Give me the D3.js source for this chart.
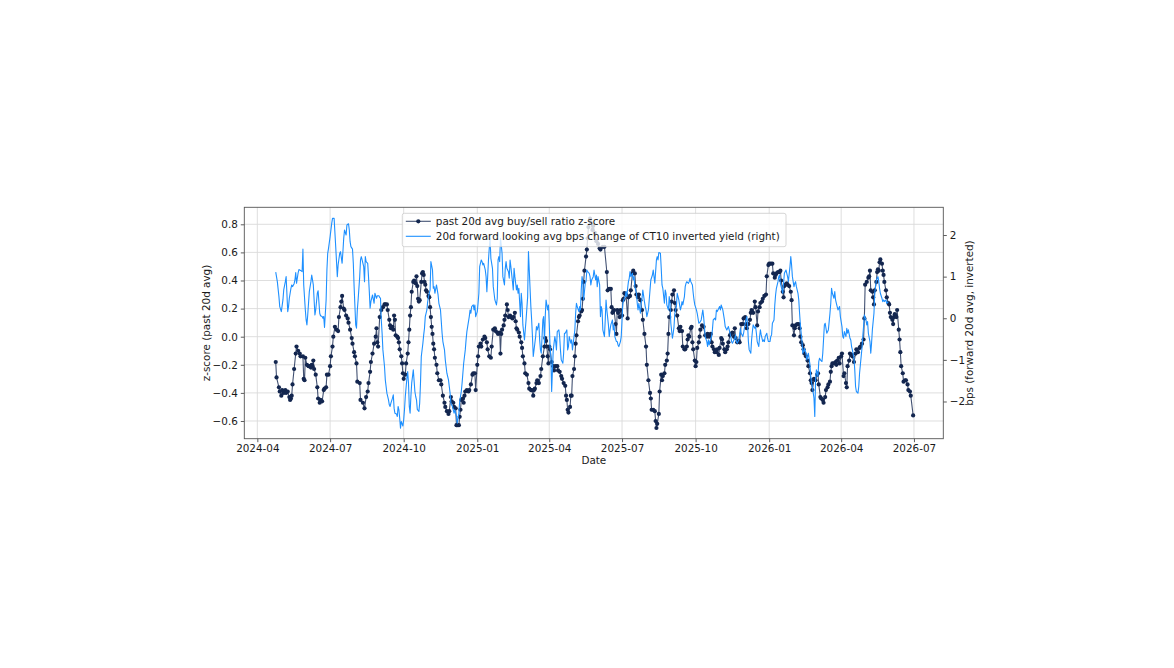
<!DOCTYPE html>
<html>
<head>
<meta charset="utf-8">
<script src="https://cdn.jsdelivr.net/npm/d3@7"></script>
<style>
  body { margin: 0; background: #ffffff; }
  text { font-family: "DejaVu Sans", sans-serif; }
</style>
</head>
<body>
<div id="my_dataviz"></div>
<script>
// day offsets are counted from this date
var baseDate = "2024-04-01"

// past 20d avg buy/sell ratio z-score (left axis)
var zDays = [23,24,27,28,30,31,33,35,36,38,
  40,41,42,43,44,46,48,49,51,53,
  54,57,58,59,60,62,64,65,67,68,
  69,70,71,73,75,76,78,79,81,83,
  84,86,87,89,91,92,94,95,97,99,
  101,102,104,105,106,108,109,111,113,114,
  116,118,119,121,122,124,125,128,129,132,
  134,136,138,139,141,142,144,146,148,149,
  150,151,153,155,157,159,160,162,163,165,
  166,167,169,170,171,172,173,175,176,177,
  178,180,181,182,183,185,186,188,189,190,
  191,192,193,195,196,198,199,200,201,202,
  203,205,206,207,208,209,210,211,212,214,
  215,216,217,218,219,220,221,222,224,225,
  227,229,230,232,234,235,237,239,240,242,
  243,245,246,248,249,250,252,253,254,255,
  257,258,259,260,262,264,265,267,269,270,
  272,273,275,276,277,279,280,282,284,285,
  287,288,290,292,293,295,297,298,300,301,
  303,304,305,306,308,309,310,312,313,314,
  316,317,319,320,322,323,324,325,327,328,
  330,331,332,334,335,337,339,340,342,343,
  345,346,347,349,350,352,354,355,357,359,
  360,361,362,363,364,365,366,368,370,371,
  373,375,376,378,380,381,383,385,386,387,
  388,389,391,392,393,394,396,397,398,399,
  401,402,403,405,406,407,408,409,411,412,
  413,414,416,417,419,420,422,424,426,428,
  429,432,434,437,438,440,442,443,444,445,
  446,448,449,450,451,453,454,456,457,458,
  459,461,463,464,466,467,469,470,472,473,
  474,476,477,479,481,482,484,486,487,489,
  491,492,493,495,497,498,499,500,502,503,
  505,506,507,509,510,512,513,514,515,517,
  518,519,521,522,523,525,527,528,529,531,
  532,534,535,537,538,539,540,542,543,544,
  545,547,548,549,550,552,553,554,556,558,
  560,562,563,565,567,568,569,571,572,574,
  575,577,578,580,581,582,584,585,587,588,
  589,591,592,594,596,597,598,600,602,603,
  605,607,608,610,611,612,614,616,617,618,
  620,622,623,625,626,628,629,631,632,634,
  636,637,639,640,642,644,645,647,648,649,
  651,653,654,655,657,658,659,660,662,663,
  665,667,668,669,671,672,673,675,677,678,
  679,680,682,683,684,686,688,689,691,692,
  693,694,696,698,700,701,702,704,705,707,
  708,710,711,713,714,716,717,718,719,721,
  723,724,725,727,728,730,731,733,734,736,
  737,738,740,741,743,744,746,748,749,751,
  753,754,756,758,759,760,762,764,765,766,
  767,769,770,771,772,774,775,776,777,778,
  779,781,782,783,784,786,787,789,790,791,
  792,794,795,796,797,798,799,800,802,803,
  804,805,807,808,810,811,813,814,816,817,
  820]
var zVals = [-0.18,-0.29,-0.36,-0.39,-0.42,-0.38,-0.40,-0.38,-0.40,-0.39,
  -0.43,-0.45,-0.44,-0.42,-0.34,-0.23,-0.12,-0.07,-0.10,-0.12,
  -0.14,-0.14,-0.30,-0.31,-0.15,-0.20,-0.21,-0.21,-0.22,-0.20,
  -0.21,-0.17,-0.23,-0.27,-0.36,-0.44,-0.47,-0.45,-0.46,-0.38,
  -0.37,-0.36,-0.27,-0.27,-0.21,-0.14,-0.07,0.00,0.07,0.05,
  0.04,0.14,0.21,0.25,0.29,0.20,0.19,0.15,0.13,0.10,
  0.05,-0.01,-0.05,-0.11,-0.14,-0.19,-0.32,-0.33,-0.45,-0.47,
  -0.51,-0.43,-0.39,-0.33,-0.25,-0.18,-0.12,-0.05,0.00,0.06,
  -0.04,-0.07,0.14,0.19,0.21,0.23,0.23,0.23,0.19,0.12,
  0.08,0.06,0.07,0.05,0.15,0.12,0.01,0.00,-0.01,-0.04,
  -0.09,-0.14,-0.19,-0.26,-0.30,-0.27,-0.19,-0.12,-0.04,0.05,
  0.15,0.21,0.32,0.39,0.40,0.38,0.43,0.36,0.27,0.25,
  0.26,0.39,0.45,0.46,0.44,0.39,0.37,0.33,0.32,0.29,
  0.28,0.21,0.14,0.07,0.02,-0.05,-0.09,-0.15,-0.20,-0.26,
  -0.31,-0.31,-0.34,-0.42,-0.47,-0.50,-0.53,-0.55,-0.53,-0.43,
  -0.46,-0.47,-0.50,-0.51,-0.63,-0.63,-0.63,-0.57,-0.52,-0.45,
  -0.44,-0.47,-0.42,-0.39,-0.38,-0.39,-0.38,-0.34,-0.27,-0.26,
  -0.26,-0.38,-0.20,-0.14,-0.07,-0.05,-0.07,-0.02,0.00,-0.01,
  -0.04,-0.09,-0.14,-0.15,-0.07,0.05,0.06,0.04,0.03,0.02,
  0.03,-0.12,0.02,0.05,0.08,0.12,0.15,0.23,0.19,0.14,
  0.15,0.14,0.13,0.14,0.17,0.11,0.06,0.05,0.03,0.00,
  -0.04,-0.08,-0.14,-0.19,-0.26,-0.27,-0.33,-0.37,-0.38,-0.38,
  -0.42,-0.38,-0.37,-0.33,-0.31,-0.33,-0.28,-0.23,-0.14,-0.07,
  -0.01,-0.03,-0.07,-0.14,-0.19,-0.07,-0.09,-0.18,-0.21,-0.24,
  -0.21,-0.21,-0.24,-0.25,-0.28,-0.30,-0.33,-0.35,-0.42,-0.45,
  -0.52,-0.54,-0.50,-0.42,-0.42,-0.28,-0.23,-0.14,-0.05,0.01,
  0.11,0.14,0.15,0.18,0.19,0.27,0.39,0.47,0.57,0.62,
  0.70,0.78,0.84,0.81,0.76,0.79,0.74,0.68,0.66,0.63,
  0.62,0.64,0.64,0.46,0.33,0.34,0.34,0.21,0.17,0.18,
  0.19,0.09,0.02,0.19,0.17,0.14,0.19,0.15,0.26,0.27,
  0.31,0.30,0.13,0.28,0.29,0.33,0.45,0.47,0.45,0.36,
  0.30,0.28,0.30,0.26,0.19,0.12,0.02,-0.07,-0.20,-0.31,
  -0.40,-0.44,-0.52,-0.52,-0.53,-0.60,-0.65,-0.62,-0.55,-0.39,
  -0.27,-0.31,-0.28,-0.26,-0.20,-0.17,-0.12,0.02,0.14,0.19,
  0.25,0.30,0.33,0.24,0.19,0.15,0.06,0.04,0.07,0.04,
  -0.07,-0.09,-0.09,-0.07,-0.02,0.01,0.00,0.06,0.07,-0.04,
  -0.09,-0.17,-0.21,-0.18,-0.08,-0.04,0.00,0.05,0.08,0.07,
  0.01,0.00,0.02,0.00,0.02,-0.04,-0.07,-0.09,-0.11,-0.11,
  -0.09,-0.13,-0.08,-0.01,-0.02,-0.05,-0.09,-0.11,-0.09,-0.07,
  -0.04,0.01,0.02,0.03,0.00,0.06,-0.01,-0.04,-0.03,-0.04,
  0.09,0.09,0.13,0.14,0.09,0.06,0.09,0.12,0.17,0.19,
  0.17,0.25,0.21,0.08,0.18,0.21,0.24,0.25,0.27,0.29,
  0.30,0.43,0.51,0.52,0.52,0.52,0.45,0.42,0.44,0.45,
  0.46,0.46,0.47,0.40,0.32,0.28,0.36,0.37,0.38,0.37,
  0.36,0.32,0.26,0.08,0.01,0.06,0.08,0.09,0.09,0.06,
  0.00,-0.04,-0.06,-0.09,-0.12,-0.14,-0.17,-0.21,-0.26,-0.31,
  -0.33,-0.38,-0.30,-0.31,-0.27,-0.26,-0.34,-0.43,-0.44,-0.45,
  -0.47,-0.43,-0.38,-0.36,-0.34,-0.32,-0.25,-0.21,-0.19,-0.19,
  -0.18,-0.20,-0.17,-0.15,-0.19,-0.14,-0.12,-0.28,-0.26,-0.33,
  -0.36,-0.21,-0.17,-0.12,-0.13,-0.14,-0.18,-0.12,-0.09,-0.11,
  -0.08,-0.07,-0.05,-0.02,0.13,0.37,0.39,0.42,0.43,0.47,
  0.33,0.32,0.28,0.23,0.33,0.39,0.46,0.48,0.47,0.53,
  0.55,0.52,0.47,0.44,0.39,0.33,0.28,0.24,0.23,0.17,
  0.14,0.12,0.09,0.14,0.16,0.15,0.14,0.19,0.05,-0.02,
  -0.11,-0.21,-0.26,-0.32,-0.31,-0.31,-0.34,-0.38,-0.39,-0.42,
  -0.56]

// 20d forward looking avg bps change of CT10 inverted yield (right axis)
var fDays = [23,25,27,28,30,32,33,35,36,38,
  39,40,42,43,44,46,47,48,49,51,
  52,54,56,57,58,60,61,62,63,65,
  67,68,70,71,72,73,75,76,78,79,
  81,82,83,84,86,87,88,89,91,93,
  94,96,98,99,100,101,103,104,106,107,
  108,109,111,112,114,115,116,117,119,120,
  121,123,124,125,126,128,129,130,131,133,
  134,135,136,138,139,140,141,142,144,145,
  146,147,149,150,152,153,154,155,156,157,
  159,160,161,162,164,165,166,167,169,170,
  171,172,174,175,176,177,178,179,180,182,
  183,184,185,187,188,189,190,191,192,193,
  194,195,197,198,199,200,202,203,204,205,
  207,208,209,210,212,213,214,215,216,217,
  219,220,221,222,224,225,226,227,229,230,
  231,232,234,235,236,237,239,240,241,242,
  244,245,246,247,249,250,251,252,253,255,
  256,257,258,260,261,262,263,265,266,267,
  268,270,271,272,273,275,276,277,278,280,
  281,282,283,285,286,287,288,289,290,291,
  292,294,295,296,297,299,300,301,302,303,
  304,305,306,307,309,310,311,312,314,315,
  316,317,319,320,321,322,324,325,326,327,
  329,330,331,332,334,335,336,338,339,340,
  342,343,344,345,347,348,349,350,352,353,
  354,355,357,358,359,360,361,363,364,365,
  366,367,368,369,370,372,373,374,375,377,
  378,379,380,382,383,384,385,387,388,389,
  390,392,393,394,395,397,398,399,400,402,
  403,404,405,406,407,408,410,411,412,413,
  415,416,417,418,420,421,423,424,425,426,
  428,429,430,431,432,434,435,436,437,439,
  440,441,442,444,445,446,447,449,450,451,
  452,454,455,456,457,459,460,461,462,463,
  464,465,466,467,469,470,471,472,474,475,
  476,477,479,480,481,482,484,485,486,487,
  489,490,491,492,494,495,496,497,499,500,
  501,502,504,505,506,507,509,510,511,512,
  514,515,516,517,519,520,521,522,524,525,
  526,527,529,530,531,532,534,535,536,537,
  539,540,541,542,544,545,546,547,549,550,
  551,552,554,555,556,557,558,559,560,562,
  563,564,565,567,568,569,570,572,573,574,
  575,577,578,579,580,582,583,584,585,587,
  588,589,590,592,593,594,595,597,598,599,
  600,602,603,604,605,607,608,609,610,612,
  613,614,615,617,618,619,620,622,623,624,
  625,627,628,629,630,632,633,634,635,637,
  638,639,641,642,643,644,646,647,648,649,
  651,652,653,654,656,657,658,659,661,662,
  663,664,666,667,668,669,671,672,673,674,
  676,677,678,679,681,682,683,684,686,687,
  688,689,691,692,693,694,696,697,698,699,
  701,702,703,704,706,707,709,710,711,712,
  714,715,716,717,718,719,721,722,723,724,
  726,727,728,729,731,732,733,734,736,737,
  738,739,741,742,743,744,746,747,748,749,
  751,752,753,754,756,757,758,759,761,762,
  763,764,766,767,768,769,771,772,773,774,
  776,777,778,779,781,782,783,784,786,787,
  789]
var fVals = [1.11,0.88,0.52,0.28,0.16,0.44,0.68,0.88,1.00,0.16,
  0.28,0.48,0.72,0.80,0.76,0.83,0.92,1.10,0.84,1.09,
  1.17,1.15,1.12,1.66,0.80,0.20,-0.04,-0.16,0.08,0.64,
  0.88,1.04,0.80,0.44,0.08,0.20,0.60,0.66,0.12,0.06,
  0.04,0.00,0.04,-0.22,0.44,1.16,1.56,1.68,1.96,2.28,
  2.40,2.40,1.72,1.36,1.00,1.28,1.56,1.60,1.32,1.60,
  1.92,2.12,2.00,2.24,2.27,2.12,1.84,1.72,1.66,1.32,
  0.76,-0.16,-0.24,0.20,0.44,1.00,1.40,1.48,1.40,1.24,
  0.88,1.48,1.36,1.32,1.00,0.64,0.24,0.40,0.56,0.46,
  0.36,0.60,0.48,0.54,0.54,0.50,0.48,-0.04,-0.36,-0.76,
  -1.16,-1.48,-1.64,-1.80,-1.96,-2.08,-2.12,-2.04,-1.92,-1.84,
  -2.16,-2.28,-2.30,-2.36,-2.12,-2.20,-2.40,-2.64,-2.48,-2.59,
  -2.44,-2.20,-1.88,-1.44,-1.28,-1.56,-2.12,-2.28,-1.88,-1.56,
  -1.40,-1.24,-1.76,-1.88,-1.96,-2.19,-2.24,-2.04,-1.56,-0.92,
  -0.60,-0.40,-0.24,0.04,0.20,0.40,0.52,0.60,0.68,1.36,
  1.16,0.72,0.76,0.60,0.80,0.68,0.56,0.36,0.20,-0.08,
  -0.36,-0.56,-0.76,-1.00,-1.16,-1.32,-1.48,-1.64,-1.80,-2.04,
  -2.12,-2.20,-2.28,-2.20,-2.36,-2.52,-2.40,-2.28,-2.00,-1.76,
  -1.56,-1.32,-1.08,-0.76,-0.52,-0.32,-0.20,0.04,0.20,0.12,
  0.28,0.32,0.20,0.32,0.04,0.16,0.36,0.60,1.24,1.40,
  1.36,1.28,1.32,1.16,1.00,0.64,1.00,1.40,1.68,1.92,
  1.44,1.20,0.76,0.60,0.44,0.32,0.48,1.40,1.48,1.36,
  1.92,1.76,1.56,1.00,0.80,1.20,1.36,1.20,1.12,0.96,
  1.40,1.24,0.88,0.68,1.20,1.00,0.68,0.80,0.60,0.72,
  0.04,0.60,0.36,-0.16,-0.52,-0.28,-0.04,0.52,1.60,1.16,
  0.28,-0.04,-0.44,-0.92,-0.60,-0.44,-0.20,-0.28,-0.12,-0.52,
  -0.76,-0.84,-0.04,0.04,-0.60,0.04,0.44,0.20,0.32,-0.12,
  -0.68,-0.92,-1.76,-1.24,-0.76,-0.44,-0.56,-0.76,-0.32,-0.28,
  -0.44,-0.76,-1.00,-1.08,-0.84,-0.36,-0.36,-0.28,-0.76,-0.68,
  -0.44,-0.60,-0.52,-0.76,-0.60,-0.28,0.12,0.36,0.28,0.16,
  0.28,0.20,0.68,1.00,0.88,0.44,0.84,0.88,1.16,1.12,
  1.08,1.00,0.80,0.92,1.00,1.16,0.92,1.04,0.76,1.00,
  0.80,0.04,0.28,0.20,-0.28,-0.44,-0.04,0.44,0.20,-0.16,
  -0.44,-0.28,-0.16,-0.04,-0.28,-0.16,-0.44,-0.56,-0.56,-0.64,
  -0.68,-0.56,-0.44,-0.04,0.36,0.48,0.52,0.64,0.52,0.72,
  0.88,0.96,1.12,1.00,1.08,0.92,1.00,0.76,0.60,0.36,
  0.20,0.36,0.12,0.36,0.48,0.68,0.40,0.28,0.20,0.04,
  0.20,0.44,0.68,0.92,1.04,1.16,1.00,0.84,1.40,1.48,
  1.40,1.58,1.56,1.20,0.80,0.72,0.36,0.68,0.60,0.32,
  0.20,0.52,0.36,-0.12,-0.48,-0.36,-0.20,0.12,0.28,0.60,
  0.52,0.44,0.20,0.28,0.40,0.32,0.52,0.76,0.84,0.88,
  0.84,0.88,0.96,0.88,0.80,0.60,0.44,0.32,0.20,0.12,
  0.00,-0.12,-0.08,-0.04,0.08,0.20,0.04,-0.20,-0.44,-0.56,
  -0.68,-0.52,-0.64,-0.48,-0.44,-0.28,-0.04,0.00,-0.04,0.20,
  0.16,0.24,0.28,0.20,0.32,0.20,0.08,-0.04,-0.20,-0.28,
  -0.24,-0.20,-0.28,-0.44,-0.56,-0.60,-0.56,-0.48,-0.40,-0.56,
  -0.60,-0.52,-0.40,-0.24,-0.36,-0.44,-0.36,-0.24,-0.12,0.04,
  -0.16,-0.56,-0.76,-0.84,-0.52,-0.32,-0.16,-0.24,-0.20,-0.36,
  -0.56,-0.68,-0.44,-0.28,-0.40,-0.56,-0.52,-0.56,-0.44,-0.36,
  -0.48,-0.56,-0.56,-0.44,-0.40,-0.12,-0.04,0.32,0.56,0.72,
  0.88,1.00,1.04,0.84,0.68,0.60,0.84,1.08,1.16,1.08,
  1.00,0.88,1.24,1.48,1.28,1.00,0.76,0.84,0.88,0.76,
  0.60,0.44,0.12,-0.16,-0.56,-0.84,-0.80,-0.72,-0.84,-1.00,
  -0.92,-0.84,-1.12,-1.40,-1.56,-1.64,-1.92,-2.36,-1.48,-1.24,
  -1.40,-1.04,-0.96,-1.00,-1.04,-0.84,-0.16,-0.12,-0.24,-0.36,
  -0.28,-0.08,0.12,0.36,0.72,0.60,0.48,0.64,0.44,0.36,
  0.20,0.24,0.28,0.04,-0.20,-0.44,-0.48,-0.32,-0.44,-0.24,
  -0.36,-0.28,-0.48,-0.52,-0.68,-0.76,-0.96,-1.24,-1.64,-1.76,
  -1.80,-1.64,-1.32,-1.12,-0.72,-0.44,-0.20,0.08,-0.04,-0.16,
  -0.08,-0.36,-0.56,-0.84,-0.60,-0.28,0.12,0.60,0.76,0.92,
  1.00,0.88,0.72,0.60,0.48,0.40,0.44,0.40,0.44,0.36,
  0.40]

// ticks
var xTickLabels = ["2024-04", "2024-07", "2024-10", "2025-01", "2025-04",
  "2025-07", "2025-10", "2026-01", "2026-04", "2026-07"]
var leftTicks = [-0.6, -0.4, -0.2, 0.0, 0.2, 0.4, 0.6, 0.8]
var rightTicks = [-2, -1, 0, 1, 2]

// axis limits (day offsets / values)
var xLimDays = [-16.3, 857.7]
var leftLim = [-0.726, 0.921]
var rightLim = [-2.894, 2.666]

var seriesNames = ["past 20d avg buy/sell ratio z-score",
  "20d forward looking avg bps change of CT10 inverted yield (right)"]

// set the dimensions of the graph
var margin = {top: 207.3, left: 244.3},
    width = 699,
    height = 231.4;

var darkColor = "#13264f", blueColor = "#1e90ff", fontSize = "10.4px";

var base = Date.UTC(2024, 3, 1)
function dayToDate(d) { return new Date(base + d * 864e5); }

var zData = zDays.map(function(d, i) { return {date: dayToDate(d), value: zVals[i]}; })
var fData = fDays.map(function(d, i) { return {date: dayToDate(d), value: fVals[i]}; })

var svg = d3.select("#my_dataviz")
  .append("svg")
    .attr("width", 1174)
    .attr("height", 668)
    .style("display", "block")
    .style("background", "#ffffff")

var g = svg.append("g")
    .attr("transform", "translate(" + margin.left + "," + margin.top + ")");

// scales
var x = d3.scaleUtc()
  .domain(xLimDays.map(dayToDate))
  .range([0, width]);
var yLeft = d3.scaleLinear().domain(leftLim).range([height, 0]);
var yRight = d3.scaleLinear().domain(rightLim).range([height, 0]);

var xTickDates = xTickLabels.map(function(s) { return d3.utcParse("%Y-%m")(s); })

// grid
g.append("g")
  .selectAll("line.vgrid")
  .data(xTickDates)
  .enter()
  .append("line")
    .attr("x1", function(d) { return x(d); })
    .attr("x2", function(d) { return x(d); })
    .attr("y1", 0)
    .attr("y2", height)
    .attr("stroke", "#dadada")
    .attr("stroke-width", 0.9)
g.append("g")
  .selectAll("line.hgrid")
  .data(leftTicks)
  .enter()
  .append("line")
    .attr("x1", 0)
    .attr("x2", width)
    .attr("y1", function(d) { return yLeft(d); })
    .attr("y2", function(d) { return yLeft(d); })
    .attr("stroke", "#dadada")
    .attr("stroke-width", 0.9)

// dark series with markers
var clip = svg.append("clipPath").attr("id", "plotclip")
clip.append("rect").attr("width", width).attr("height", height)

var plot = g.append("g").attr("clip-path", "url(#plotclip)")

var zLine = d3.line()
  .x(function(d) { return x(d.date); })
  .y(function(d) { return yLeft(d.value); })

plot.append("path")
  .datum(zData)
  .attr("fill", "none")
  .attr("stroke", darkColor)
  .attr("stroke-opacity", 0.8)
  .attr("stroke-width", 1.1)
  .attr("d", zLine)

plot.selectAll("circle.zpt")
  .data(zData)
  .enter()
  .append("circle")
    .attr("cx", function(d) { return x(d.date); })
    .attr("cy", function(d) { return yLeft(d.value); })
    .attr("r", 2.1)
    .attr("fill", darkColor)

// blue series on the right axis
var fLine = d3.line()
  .x(function(d) { return x(d.date); })
  .y(function(d) { return yRight(d.value); })

plot.append("path")
  .datum(fData)
  .attr("fill", "none")
  .attr("stroke", blueColor)
  .attr("stroke-width", 1.1)
  .attr("stroke-linejoin", "round")
  .attr("d", fLine)

// axes
var xAxis = g.append("g")
  .attr("transform", "translate(0," + height + ")")
  .call(d3.axisBottom(x).tickValues(xTickDates).tickSize(3.5).tickPadding(2.5)
    .tickFormat(function(d, i) { return xTickLabels[i]; }))
var lAxis = g.append("g")
  .call(d3.axisLeft(yLeft).tickValues(leftTicks).tickSize(3.5).tickPadding(3)
    .tickFormat(d3.format(".1f")))
var rAxis = g.append("g")
  .attr("transform", "translate(" + width + ",0)")
  .call(d3.axisRight(yRight).tickValues(rightTicks).tickSize(3.5).tickPadding(3)
    .tickFormat(d3.format("d")))

;[xAxis, lAxis, rAxis].forEach(function(a) {
  a.select(".domain").remove()
  a.selectAll("line").attr("stroke", "#333").attr("stroke-width", 0.8)
  a.selectAll("text")
    .style("font-size", fontSize)
    .style("font-family", "DejaVu Sans, sans-serif")
    .attr("fill", "#1a1a1a")
})

// frame
g.append("rect")
  .attr("width", width)
  .attr("height", height)
  .attr("fill", "none")
  .attr("stroke", "#555")
  .attr("stroke-width", 0.9)

// axis labels
g.append("text")
  .attr("x", width / 2)
  .attr("y", height + 25.5)
  .attr("text-anchor", "middle")
  .style("font-size", fontSize)
  .attr("fill", "#1a1a1a")
  .text("Date")

g.append("text")
  .attr("transform", "translate(" + (210 - margin.left) + "," + (height / 2) + ")rotate(-90)")
  .attr("text-anchor", "middle")
  .style("font-size", fontSize)
  .attr("fill", "#1a1a1a")
  .text("z-score (past 20d avg)")

g.append("text")
  .attr("transform", "translate(" + (973 - margin.left) + "," + (height / 2) + ")rotate(-90)")
  .attr("text-anchor", "middle")
  .style("font-size", fontSize)
  .attr("fill", "#1a1a1a")
  .text("bps (forward 20d avg, inverted)")

// legend
var legend = svg.append("g").attr("transform", "translate(402.3,213.3)")
legend.append("rect")
  .attr("width", 383.7)
  .attr("height", 33.4)
  .attr("rx", 2)
  .attr("fill", "#ffffff")
  .attr("fill-opacity", 0.8)
  .attr("stroke", "#cccccc")
  .attr("stroke-width", 0.8)

legend.append("line")
  .attr("x1", 3.5).attr("x2", 28.5).attr("y1", 8).attr("y2", 8)
  .attr("stroke", darkColor).attr("stroke-opacity", 0.8).attr("stroke-width", 1.1)
legend.append("circle")
  .attr("cx", 16).attr("cy", 8).attr("r", 2.1).attr("fill", darkColor)
legend.append("line")
  .attr("x1", 3.5).attr("x2", 28.5).attr("y1", 23).attr("y2", 23)
  .attr("stroke", blueColor).attr("stroke-width", 1.1)

legend.selectAll("text.leg")
  .data(seriesNames)
  .enter()
  .append("text")
    .attr("x", 33.5)
    .attr("y", function(d, i) { return 11.7 + i * 15; })
    .style("font-size", fontSize)
    .attr("fill", "#1a1a1a")
    .text(function(d) { return d; })
</script>
</body>
</html>
